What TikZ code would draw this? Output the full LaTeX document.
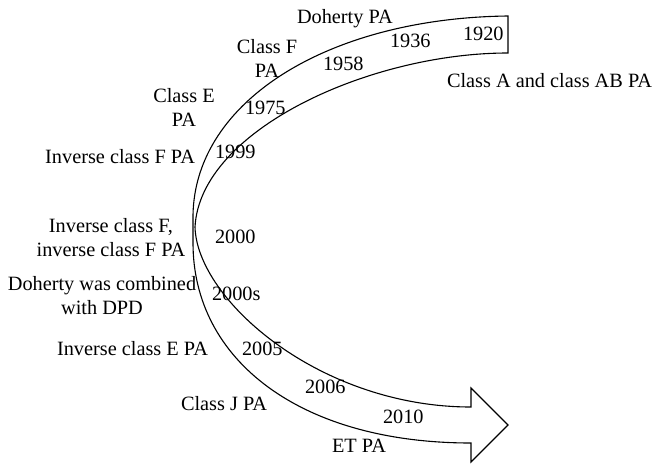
\documentclass[tikz,border=0pt]{standalone}
\usepackage{fontspec}
\setmainfont{Liberation Serif}
\begin{document}
\begin{tikzpicture}[x=1pt,y=-1pt,
  lbl/.style={inner sep=0pt,outer sep=0pt,font=\fontsize{20.3pt}{24.5pt}\selectfont},
  yr/.style={lbl,anchor=base west},
  band/.style={draw=black,line width=1.1pt,line join=miter,fill=white}]
\useasboundingbox (0,0) rectangle (655,463);
% curved arrow band
\draw[band] (508,16) .. controls (330,18) and (195,100) .. (193,215)
  -- (193,243) .. controls (193,360) and (300,443) .. (471,443)
  -- (471,462) -- (508,425) -- (471,388) -- (471,407)
  .. controls (320,407) and (197,300) .. (195,227)
  .. controls (200,130) and (370,53) .. (508,53) -- cycle;
% years
\node[yr] (y1920) at (463,40) {1920};
\node[yr] (y1936) at (390,47) {1936};
\node[yr] (y1958) at (323,70) {1958};
\node[yr] (y1975) at (245,114) {1975};
\node[yr] (y1999) at (215,158) {1999};
\node[yr] (y2000) at (215,243) {2000};
\node[yr] (y2000s) at (212,300) {2000s};
\node[yr] (y2005) at (242,355) {2005};
\node[yr] (y2006) at (305,393) {2006};
\node[yr] (y2010) at (383,423) {2010};
% labels
\node[lbl,anchor=base west] (doh) at (297,23) {Doherty PA};
\node[lbl,anchor=north,align=center] (clf) at (267,39) {Class F\\PA};
\node[lbl,anchor=base west] (cla) at (447,87) {Class A and class AB PA};
\node[lbl,anchor=north,align=center] (cle) at (184,88) {Class E\\PA};
\node[lbl,anchor=base east] (icf) at (195,163) {Inverse class F PA};
\node[lbl,anchor=north,align=center] (icf2) at (111,218) {Inverse class F,\\inverse class F PA};
\node[lbl,anchor=north,align=center] (dpd) at (102,276) {Doherty was combined\\with DPD};
\node[lbl,anchor=base east] (ice) at (208,355) {Inverse class E PA};
\node[lbl,anchor=base west] (clj) at (181,410) {Class J PA};
\node[lbl,anchor=base west] (et) at (332,452) {ET PA};
\end{tikzpicture}
\end{document}
